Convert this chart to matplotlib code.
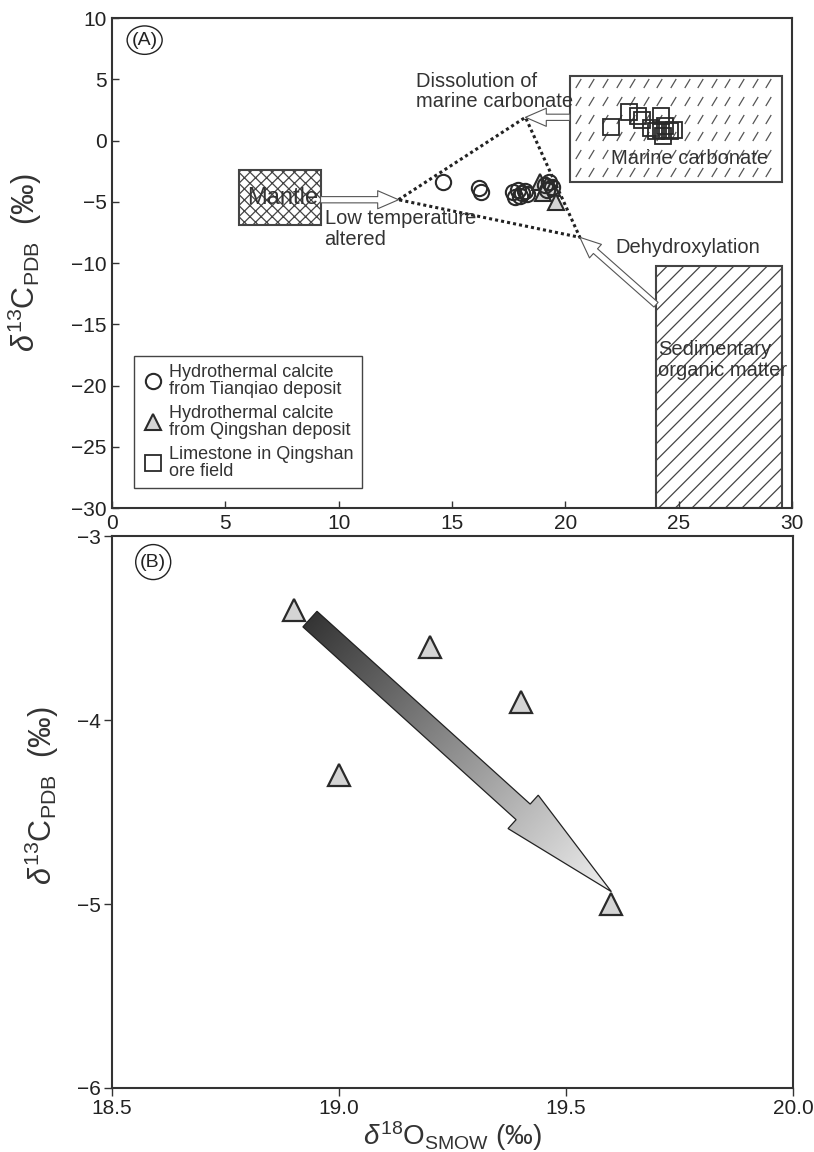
import numpy as np
import matplotlib
matplotlib.use('Agg')
import matplotlib.pyplot as plt
from matplotlib.patches import Rectangle, FancyArrowPatch, Polygon, Ellipse, ArrowStyle
from matplotlib.path import Path
from matplotlib.colors import LinearSegmentedColormap
from matplotlib.lines import Line2D

plt.rcParams['font.family'] = ['Liberation Sans', 'DejaVu Sans']
plt.rcParams['mathtext.fontset'] = 'custom'
plt.rcParams['mathtext.rm'] = 'Liberation Sans'
plt.rcParams['mathtext.it'] = 'Liberation Sans:italic'
plt.rcParams['hatch.linewidth'] = 0.9

# --- data ---
# hydrothermal calcite, Tianqiao deposit
tq_o18 = [14.6, 16.2, 16.3, 17.7, 17.9, 18.0, 18.1, 18.2, 17.8, 18.3, 19.1, 19.3, 19.4, 19.2]
tq_c13 = [-3.4, -3.9, -4.2, -4.2, -4.0, -4.5, -4.3, -4.1, -4.6, -4.4, -3.6, -3.4, -3.8, -4.0]
# hydrothermal calcite, Qingshan deposit
qs_o18 = [18.9, 19.2, 19.4, 19.0, 19.6]
qs_c13 = [-3.4, -3.6, -3.9, -4.3, -5.0]
# limestone, Qingshan ore field
ls_o18 = [22.0, 22.8, 23.2, 23.4, 24.2, 23.8, 24.0, 24.2, 24.4, 24.6, 24.3, 24.8]
ls_c13 = [1.1, 2.3, 2.0, 1.7, 2.0, 1.0, 0.8, 0.9, 1.2, 0.8, 0.4, 0.9]

# reservoir fields: (x0, x1, y0, y1)
mantle_box = (5.6, 9.2, -6.9, -2.4)
marine_box = (20.2, 29.55, -3.4, 5.3)
organic_box = (24.0, 29.55, -30.0, -10.2)

# mixing triangle vertices
tri_x = [12.64, 18.24, 20.64, 12.64]
tri_y = [-4.83, 1.9, -7.9, -4.83]

# trend arrow in panel B (tail, tip)
trend_tail = (18.936, -3.451)
trend_tip = (19.60, -4.933)

ylabel = r'$\delta^{13}\mathrm{C}_{\mathrm{PDB}}$  (‰)'
xlabel = r'$\delta^{18}\mathrm{O}_{\mathrm{SMOW}}$ (‰)'

spine_c = '#333333'
mark_c = '#2a2a2a'
tri_fill = '#d4d4d4'

fig = plt.figure(figsize=(8.14, 11.52), dpi=100)
axA = fig.add_axes([0.1376, 0.559, 0.8354, 0.4253])
axB = fig.add_axes([0.1376, 0.0556, 0.8366, 0.479])

for ax in (axA, axB):
    for s in ax.spines.values():
        s.set_linewidth(1.5)
        s.set_color(spine_c)

# ---------------- panel A ----------------
axA.set_xlim(0, 30)
axA.set_ylim(-30, 10)
axA.set_xticks(range(0, 31, 5))
axA.set_yticks(range(-30, 11, 5))
axA.tick_params(direction='in', length=5, width=1, colors=spine_c, labelsize=15,
                labelcolor='#222222', pad=4)

# mantle (cross hatch)
x0, x1, y0, y1 = mantle_box
axA.add_patch(Rectangle((x0, y0), x1 - x0, y1 - y0, fc='white', ec='#444444',
                        lw=1.5, hatch='xxx', zorder=1))
# sedimentary organic matter (diagonal hatch)
x0, x1, y0, y1 = organic_box
axA.add_patch(Rectangle((x0, y0), x1 - x0, y1 - y0, fc='white', ec='#444444',
                        lw=1.5, hatch='//', zorder=1))
# marine carbonate (short slanted strokes)
x0, x1, y0, y1 = marine_box
axA.add_patch(Rectangle((x0, y0), x1 - x0, y1 - y0, fc='white', ec='#444444',
                        lw=1.5, zorder=1))
stroke = Path([(-0.3, -0.5), (0.3, 0.5)], [Path.MOVETO, Path.LINETO])
gx, gy = np.meshgrid(np.arange(x0 + 0.35, x1 - 0.2, 0.6), np.arange(y1 - 0.6, y0, -1.45))
axA.plot(gx.ravel(), gy.ravel(), ls='none', marker=stroke, ms=6.5, mec='#555555',
         mew=0.9, zorder=1)

# dotted mixing triangle
axA.plot(tri_x, tri_y, color='#222222', lw=2.2, ls=(0, (1, 1)), zorder=2)

# hollow arrows
simple = ArrowStyle.Simple(head_length=1.5, head_width=1.3, tail_width=0.45)
for (a, b) in [((mantle_box[1], tri_y[0]), (tri_x[0], tri_y[0])),
               ((marine_box[0], tri_y[1]), (tri_x[1], tri_y[1])),
               ((organic_box[0], -13.4), (tri_x[2], tri_y[2]))]:
    axA.add_patch(FancyArrowPatch(a, b, arrowstyle=simple, mutation_scale=10,
                                  fc='white', ec='#555555', lw=0.8,
                                  shrinkA=0, shrinkB=0, zorder=3))

# points
axA.plot(qs_o18, qs_c13, ls='none', marker='^', ms=12, mfc=tri_fill, mec=mark_c,
         mew=1.5, zorder=5)
axA.plot(tq_o18, tq_c13, ls='none', marker='o', ms=11, mfc='none', mec=mark_c,
         mew=1.5, zorder=6)
axA.plot(ls_o18, ls_c13, ls='none', marker='s', ms=12, mfc='none', mec=mark_c,
         mew=1.3, zorder=6)

# annotations
txt = dict(fontsize=14.5, color='#333333', zorder=7)
axA.text(13.4, 4.0, 'Dissolution of\nmarine carbonate', va='center', ha='left',
         linespacing=1.1, **txt)
axA.text(22.0, -1.46, 'Marine carbonate', va='center', ha='left', **txt)
axA.text(5.94, -4.7, 'Mantle', va='center', ha='left', fontsize=17, color='#333333',
         zorder=7)
axA.text(9.38, -7.2, 'Low temperature\naltered', va='center', ha='left',
         linespacing=1.1, **txt)
axA.text(22.2, -8.76, 'Dehydroxylation', va='center', ha='left', **txt)
axA.text(24.1, -17.9, 'Sedimentary\norganic matter', va='center', ha='left',
         linespacing=1.1, **txt)

# panel label
axA.text(0.048, 0.955, '(A)', transform=axA.transAxes, ha='center', va='center',
         fontsize=14, color='#222222')
axA.add_patch(Ellipse((0.048, 0.955), 0.0515, 0.058, transform=axA.transAxes,
                      fill=False, ec='#222222', lw=1))

# legend
handles = [
    Line2D([], [], ls='none', marker='o', ms=11, mfc='none', mec=mark_c, mew=1.5),
    Line2D([], [], ls='none', marker='^', ms=12, mfc=tri_fill, mec=mark_c, mew=1.5),
    Line2D([], [], ls='none', marker='s', ms=12, mfc='none', mec=mark_c, mew=1.3),
]
labels = ['Hydrothermal calcite\nfrom Tianqiao deposit',
          'Hydrothermal calcite\nfrom Qingshan deposit',
          'Limestone in Qingshan\nore field']
leg = axA.legend(handles, labels, loc='lower left', bbox_to_anchor=(0.032, 0.04),
                 borderaxespad=0, fontsize=13, frameon=True, fancybox=False,
                 edgecolor='#444444', framealpha=1, borderpad=0.45,
                 labelspacing=0.35, handletextpad=0.3, handlelength=1.2)
leg.get_frame().set_linewidth(1.0)
for t in leg.get_texts():
    t.set_color('#333333')
    t.set_linespacing(1.05)

axA.set_ylabel(ylabel, fontsize=22, color='#333333')
axA.yaxis.set_label_coords(-0.1, 0.5)

# ---------------- panel B ----------------
axB.set_xlim(18.5, 20.0)
axB.set_ylim(-6, -3)
axB.set_xticks([18.5, 19.0, 19.5, 20.0])
axB.set_xticklabels(['18.5', '19.0', '19.5', '20.0'])
axB.set_yticks([-6, -5, -4, -3])
axB.tick_params(direction='out', length=6, width=1, colors=spine_c, labelsize=15,
                labelcolor='#222222', pad=2)

# gradient trend arrow built in pixel space
cmap = LinearSegmentedColormap.from_list('arr', ['#353535', '#f0f0f0'])
p0 = axB.transData.transform(trend_tail)
p1 = axB.transData.transform(trend_tip)
d = p1 - p0
L = np.hypot(*d)
u = d / L
n = np.array([-u[1], u[0]])
shaft_w, head_w, head_l = 21, 45, 119
hb = p1 - u * head_l
pts = np.array([p0 + n * shaft_w / 2, hb + n * shaft_w / 2, hb + n * head_w / 2, p1,
                hb - n * head_w / 2, hb - n * shaft_w / 2, p0 - n * shaft_w / 2])
pts_d = axB.transData.inverted().transform(pts)
poly = Polygon(pts_d, closed=True, fc='none', ec='#222222', lw=0.9, zorder=4)
axB.add_patch(poly)
xmin, ymin = pts_d.min(0)
xmax, ymax = pts_d.max(0)
mx, my = np.meshgrid(np.linspace(xmin, xmax, 400), np.linspace(ymin, ymax, 400))
disp = axB.transData.transform(np.c_[mx.ravel(), my.ravel()])
tt = (((disp - p0) @ u) / L).reshape(mx.shape)
im = axB.imshow(np.clip(tt, 0, 1), extent=(xmin, xmax, ymin, ymax), origin='lower',
                cmap=cmap, vmin=0, vmax=1, aspect='auto', zorder=3,
                interpolation='bilinear')
im.set_clip_path(poly)
axB.set_xlim(18.5, 20.0)
axB.set_ylim(-6, -3)

axB.plot(qs_o18, qs_c13, ls='none', marker='^', ms=15.6, mfc=tri_fill, mec=mark_c,
         mew=1.6, zorder=5)

axB.text(0.0605, 0.953, '(B)', transform=axB.transAxes, ha='center', va='center',
         fontsize=14, color='#222222')
axB.add_patch(Ellipse((0.0605, 0.953), 0.0514, 0.0634, transform=axB.transAxes,
                      fill=False, ec='#222222', lw=1))

axB.set_ylabel(ylabel, fontsize=22, color='#333333')
axB.yaxis.set_label_coords(-0.075, 0.53)
axB.set_xlabel(xlabel, fontsize=20, color='#333333')
axB.xaxis.set_label_coords(0.5, -0.056)

fig.savefig('out.png', dpi=100)
